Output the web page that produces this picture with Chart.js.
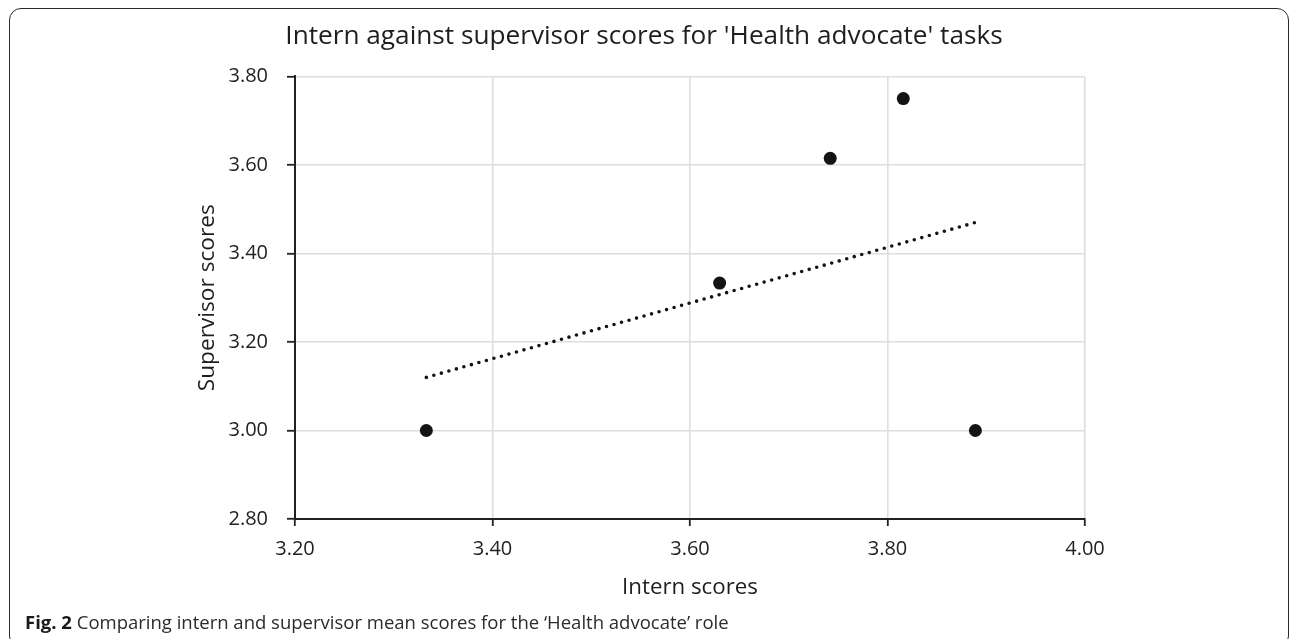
<!DOCTYPE html>
<html>
<head>
<meta charset="utf-8">
<script src="https://cdn.jsdelivr.net/npm/chart.js@4.4.0/dist/chart.umd.min.js"></script>
<style>
  html, body { margin: 0; padding: 0; background: #ffffff; }
  body { width: 1292px; height: 639px; position: relative; overflow: hidden; }
  #c { position: absolute; left: 0; top: 0; }
  #frame { position: absolute; left: 9px; top: 8px; width: 1280px; height: 640px;
           border: 1.5px solid #2a2a2a; border-radius: 12px; box-sizing: border-box; pointer-events: none; }
  #caption { position: absolute; left: 25px; top: 610px; font-family: "Open Sans", sans-serif;
             font-size: 18.5px; color: #2b2b2b; white-space: nowrap; line-height: 24px; }
  #caption b { font-weight: 700; color: #1a1a1a; }
</style>
</head>
<body>
<canvas id="c" width="1292" height="610"></canvas>
<div id="frame"></div>
<div id="caption"><b>Fig. 2</b> Comparing intern and supervisor mean scores for the ‘Health advocate’ role</div>
<script>
// ---- data ----
const internScores = [3.333, 3.63, 3.742, 3.816, 3.889];
const supervisorScores = [3.0, 3.333, 3.615, 3.75, 3.0];
const trendX = [3.333, 3.889];
const trendY = [3.12, 3.47];
const xTickValues = [3.2, 3.4, 3.6, 3.8, 4.0];
const yTickValues = [2.8, 3.0, 3.2, 3.4, 3.6, 3.8];
const chartTitle = "Intern against supervisor scores for 'Health advocate' tasks";
const xAxisTitle = "Intern scores";
const yAxisTitle = "Supervisor scores";

const points = internScores.map((x, i) => ({ x: x, y: supervisorScores[i] }));
const trend = trendX.map((x, i) => ({ x: x, y: trendY[i] }));

const FONT = '"Open Sans", sans-serif';

new Chart(document.getElementById('c'), {
  type: 'scatter',
  data: {
    datasets: [
      {
        data: points,
        backgroundColor: '#141414',
        borderColor: '#141414',
        pointRadius: 6.5,
        pointHoverRadius: 6.5,
        borderWidth: 0,
        order: 1
      },
      {
        data: trend,
        showLine: true,
        pointRadius: 0,
        borderColor: '#141414',
        borderWidth: 3.6,
        borderDash: [0, 7.8],
        borderCapStyle: 'round',
        fill: false,
        order: 2
      }
    ]
  },
  options: {
    responsive: false,
    animation: false,
    devicePixelRatio: 1,
    layout: { padding: { left: 203, right: 207, top: 0, bottom: 0 } },
    plugins: {
      legend: { display: false },
      tooltip: { enabled: false },
      title: {
        display: true,
        text: chartTitle,
        color: '#1e1e1e',
        font: { family: FONT, size: 26.2, weight: 'normal' },
        padding: { top: 21, bottom: 24 }
      }
    },
    scales: {
      x: {
        type: 'linear',
        min: 3.2,
        max: 4.0,
        afterBuildTicks: s => { s.ticks = xTickValues.map(v => ({ value: v })); },
        afterFit: s => { s.height = 91; },
        ticks: {
          color: '#222',
          font: { family: FONT, size: 20 },
          padding: 11,
          maxRotation: 0,
          callback: v => Number(v).toFixed(2)
        },
        grid: { color: '#dedede', lineWidth: 1.6, tickColor: '#222', tickLength: 7, tickWidth: 1.8 },
        border: { color: '#222', width: 2 },
        title: {
          display: true,
          text: xAxisTitle,
          color: '#1e1e1e',
          font: { family: FONT, size: 22.3 },
          padding: { top: 0, bottom: 9 }
        }
      },
      y: {
        type: 'linear',
        min: 2.8,
        max: 3.8,
        afterBuildTicks: s => { s.ticks = yTickValues.map(v => ({ value: v })); },
        afterFit: s => { s.width = 92; },
        ticks: {
          color: '#222',
          font: { family: FONT, size: 20 },
          padding: 19,
          callback: v => Number(v).toFixed(2)
        },
        grid: { color: '#dedede', lineWidth: 1.6, tickColor: '#222', tickLength: 8, tickWidth: 1.8 },
        border: { color: '#222', width: 2 },
        title: {
          display: true,
          text: yAxisTitle,
          color: '#1e1e1e',
          font: { family: FONT, size: 22.7 },
          padding: { top: -8.6, bottom: 0 }
        }
      }
    }
  }
});
</script>
</body>
</html>
